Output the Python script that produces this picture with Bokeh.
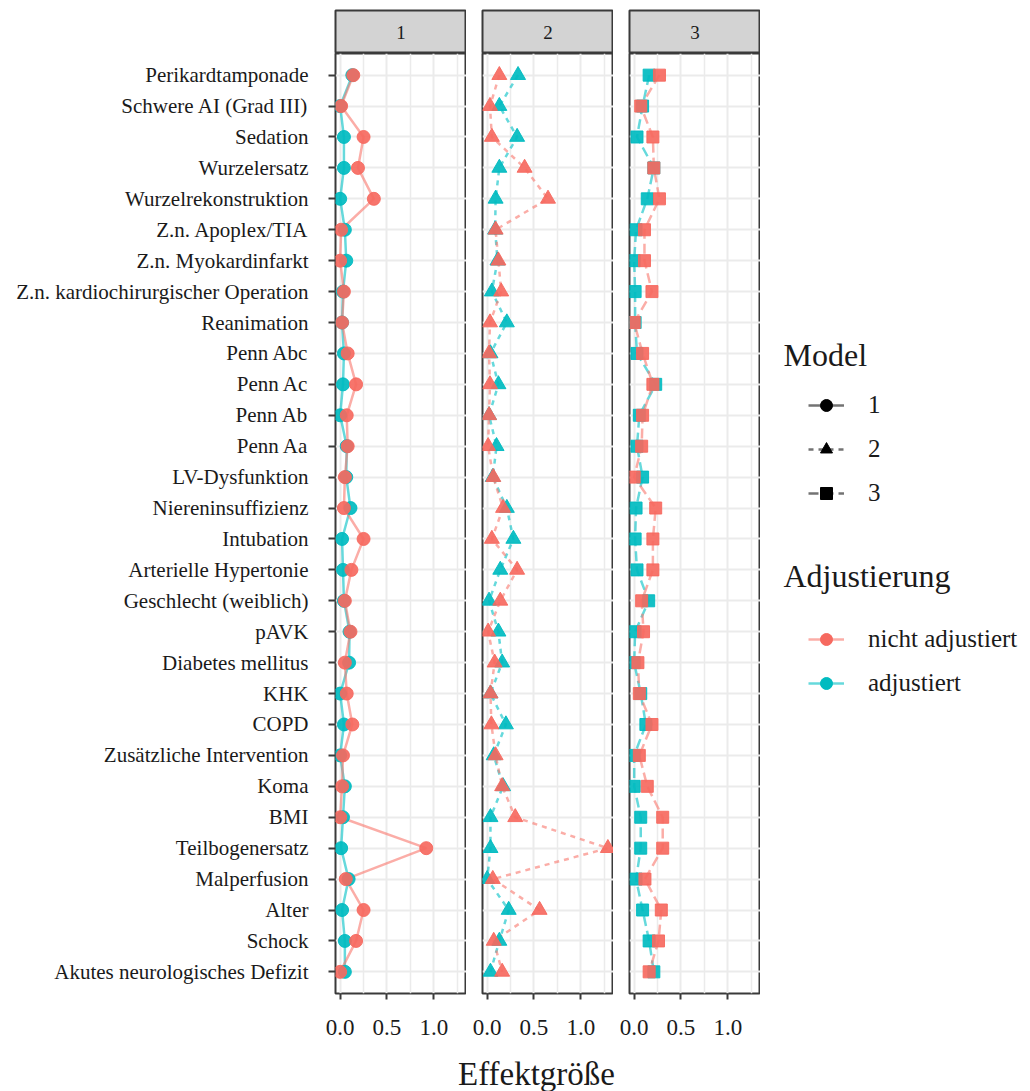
import numpy as np
from bokeh.plotting import figure
from bokeh.layouts import column, row
from bokeh.models import (Range1d, FactorRange, FixedTicker, Label, Legend, LegendItem,
                          ColumnDataSource, PrintfTickFormatter)
from bokeh.embed import file_html
from bokeh.resources import INLINE

# ---------------- data (top to bottom as shown) ----------------
categories = [
    "Perikardtamponade", "Schwere AI (Grad III)", "Sedation", "Wurzelersatz",
    "Wurzelrekonstruktion", "Z.n. Apoplex/TIA", "Z.n. Myokardinfarkt",
    "Z.n. kardiochirurgischer Operation", "Reanimation", "Penn Abc", "Penn Ac",
    "Penn Ab", "Penn Aa", "LV-Dysfunktion", "Niereninsuffizienz", "Intubation",
    "Arterielle Hypertonie", "Geschlecht (weiblich)", "pAVK", "Diabetes mellitus",
    "KHK", "COPD", "Zusätzliche Intervention", "Koma", "BMI", "Teilbogenersatz",
    "Malperfusion", "Alter", "Schock", "Akutes neurologisches Defizit",
]
models = ["1", "2", "3"]
adjust_labels = ["nicht adjustiert", "adjustiert"]
x_ticks = [0.0, 0.5, 1.0]
x_minor_ticks = [0.25, 0.75, 1.25]

m1_nicht = [0.14, 0.01, 0.25, 0.19, 0.36, 0.01, 0.00, 0.04, 0.02, 0.08,
            0.17, 0.07, 0.08, 0.05, 0.04, 0.25, 0.12, 0.05, 0.11, 0.05,
            0.07, 0.13, 0.03, 0.02, 0.00, 0.92, 0.06, 0.25, 0.17, 0.00]
m1_adj = [0.13, 0.00, 0.04, 0.04, 0.00, 0.05, 0.065, 0.03, 0.02, 0.04,
          0.03, 0.00, 0.07, 0.065, 0.11, 0.02, 0.03, 0.04, 0.10, 0.095,
          0.00, 0.04, 0.00, 0.05, 0.03, 0.01, 0.09, 0.02, 0.05, 0.05]
m2_nicht = [0.13, 0.03, 0.05, 0.40, 0.65, 0.09, 0.12, 0.15, 0.03, 0.02,
            0.03, 0.02, 0.01, 0.065, 0.17, 0.05, 0.32, 0.14, 0.01, 0.08,
            0.035, 0.045, 0.09, 0.16, 0.30, 1.29, 0.06, 0.56, 0.07, 0.16]
m2_adj = [0.33, 0.13, 0.32, 0.13, 0.09, 0.085, 0.11, 0.05, 0.21, 0.035,
          0.12, 0.02, 0.10, 0.06, 0.21, 0.28, 0.14, 0.02, 0.12, 0.16,
          0.035, 0.20, 0.07, 0.17, 0.035, 0.035, 0.00, 0.23, 0.13, 0.035]
m3_nicht = [0.27, 0.07, 0.20, 0.21, 0.27, 0.11, 0.11, 0.19, 0.00, 0.09,
            0.20, 0.09, 0.08, 0.00, 0.23, 0.20, 0.20, 0.08, 0.10, 0.04,
            0.055, 0.19, 0.055, 0.14, 0.305, 0.305, 0.115, 0.29, 0.26, 0.16]
m3_adj = [0.16, 0.09, 0.03, 0.21, 0.14, 0.02, 0.00, 0.01, 0.01, 0.03,
          0.23, 0.055, 0.03, 0.09, 0.02, 0.01, 0.03, 0.155, 0.01, 0.00,
          0.07, 0.125, 0.00, 0.00, 0.07, 0.07, 0.02, 0.09, 0.16, 0.21]

# ---------------- styling ----------------
FONT = "Liberation Serif"
RED = "#F6695F"
CYAN = "#00BBC0"
LINE_RED = "#F8766D"
LINE_CYAN = "#00BFC4"
BORDER = "#3a3a3a"
GRID = "#ebebeb"
markers = ["circle", "triangle", "square"]
marker_sizes = [13, 15, 12]
dashes = ["solid", "5 5", "10 5"]
series = [(m1_nicht, m1_adj), (m2_nicht, m2_adj), (m3_nicht, m3_adj)]

FRAME_W = 131
FRAME_H = 940
LEFT1 = 335
GAP = 16
BOTTOM = 50

yr = FactorRange(factors=list(reversed(categories)), range_padding=0.2,
                 range_padding_units="absolute")


def make_panel(idx):
    first = idx == 0
    p = figure(frame_width=FRAME_W, frame_height=FRAME_H,
               x_range=Range1d(-0.05, 1.35), y_range=yr,
               min_border_left=LEFT1 if first else GAP, min_border_right=0,
               min_border_top=0, min_border_bottom=BOTTOM,
               output_backend="svg", toolbar_location=None)
    p.background_fill_color = "white"
    p.border_fill_color = "white"
    p.outline_line_color = BORDER
    p.outline_line_width = 2

    p.xaxis.ticker = FixedTicker(ticks=x_ticks, minor_ticks=x_minor_ticks)
    p.xaxis.formatter = PrintfTickFormatter(format="%.1f")
    p.xaxis.axis_line_color = None
    p.xaxis.major_tick_out = 6
    p.xaxis.major_tick_in = 0
    p.xaxis.major_tick_line_width = 2
    p.xaxis.major_tick_line_color = BORDER
    p.xaxis.minor_tick_out = 0
    p.xaxis.minor_tick_in = 0
    p.xaxis.major_label_text_font = FONT
    p.xaxis.major_label_text_font_size = "23px"
    p.xaxis.major_label_text_color = "#1a1a1a"
    p.xaxis.major_label_standoff = 20

    if first:
        p.yaxis.axis_line_color = None
        p.yaxis.major_tick_out = 7
        p.yaxis.major_tick_in = 0
        p.yaxis.major_tick_line_width = 2
        p.yaxis.major_tick_line_color = BORDER
        p.yaxis.major_label_text_font = FONT
        p.yaxis.major_label_text_font_size = "21px"
        p.yaxis.major_label_text_color = "#1a1a1a"
        p.yaxis.major_label_standoff = 20
    else:
        p.yaxis.visible = False

    p.xgrid.grid_line_color = GRID
    p.xgrid.grid_line_width = 2
    p.xgrid.minor_grid_line_color = GRID
    p.xgrid.minor_grid_line_width = 1.5
    p.ygrid.grid_line_color = GRID
    p.ygrid.grid_line_width = 2

    nicht, adj = series[idx]
    for vals, col in ((adj, LINE_CYAN), (nicht, LINE_RED)):
        p.line(x=vals, y=categories, line_color=col, line_alpha=0.6,
               line_width=2.5, line_dash=dashes[idx])
    for vals, col in ((adj, CYAN), (nicht, RED)):
        p.scatter(x=vals, y=categories, marker=markers[idx], size=marker_sizes[idx],
                  fill_color=col, line_color=col, fill_alpha=0.92, line_alpha=0.92)
    return p


def make_strip(idx):
    first = idx == 0
    s = figure(frame_width=FRAME_W, frame_height=43,
               x_range=Range1d(0, 1), y_range=Range1d(0, 1),
               min_border_left=LEFT1 if first else GAP, min_border_right=0,
               min_border_top=10, min_border_bottom=0,
               x_axis_location=None, y_axis_location=None,
               output_backend="svg", toolbar_location=None)
    s.xgrid.visible = False
    s.ygrid.visible = False
    s.background_fill_color = "#d3d3d3"
    s.border_fill_color = "white"
    s.outline_line_color = BORDER
    s.outline_line_width = 2
    s.add_layout(Label(x=0.5, y=0.5, text=models[idx], text_align="center",
                       text_baseline="middle", text_font=FONT,
                       text_font_size="19px", text_color="#1a1a1a"))
    return s


panels = [make_panel(i) for i in range(3)]
strips = [make_strip(i) for i in range(3)]

# ---------------- legend figure ----------------
LEG_H = FRAME_H + BOTTOM
leg = figure(width=262, height=LEG_H, x_range=Range1d(0, 1), y_range=Range1d(0, 1),
             min_border=0, x_axis_location=None, y_axis_location=None,
             output_backend="svg", toolbar_location=None)
leg.xgrid.visible = False
leg.ygrid.visible = False
leg.outline_line_color = None
leg.background_fill_color = "white"
leg.border_fill_color = "white"

model_items = []
for i, m in enumerate(models):
    src = ColumnDataSource(data=dict(x=np.array([np.nan]), y=np.array([np.nan])))
    lr = leg.line("x", "y", source=src, line_color="black", line_alpha=0.55,
                  line_width=2.5, line_dash=dashes[i])
    sr = leg.scatter("x", "y", source=src, marker=markers[i], size=12,
                     fill_color="black", line_color="black")
    model_items.append(LegendItem(label=m, renderers=[lr, sr]))

adj_items = []
for lab, col, lcol in zip(adjust_labels, (RED, CYAN), (LINE_RED, LINE_CYAN)):
    src = ColumnDataSource(data=dict(x=np.array([np.nan]), y=np.array([np.nan])))
    lr = leg.line("x", "y", source=src, line_color=lcol, line_alpha=0.6, line_width=2.5)
    sr = leg.scatter("x", "y", source=src, marker="circle", size=12,
                     fill_color=col, line_color=col)
    adj_items.append(LegendItem(label=lab, renderers=[lr, sr]))

common = dict(orientation="vertical", glyph_width=36, glyph_height=30, label_height=30,
              spacing=14, label_standoff=24, padding=0, margin=0,
              border_line_color=None, background_fill_alpha=0,
              label_text_font=FONT, label_text_font_size="25px",
              label_text_color="#1a1a1a")
leg.add_layout(Legend(items=model_items, location=(48, 485), **common))
leg.add_layout(Legend(items=adj_items, location=(48, 295), **common))
leg.add_layout(Label(x=23, y=639, x_units="screen", y_units="screen", text="Model",
                     text_font=FONT, text_font_size="32px", text_color="#1a1a1a",
                     text_baseline="alphabetic"))
leg.add_layout(Label(x=23, y=418, x_units="screen", y_units="screen", text="Adjustierung",
                     text_font=FONT, text_font_size="32px", text_color="#1a1a1a",
                     text_baseline="alphabetic"))

# ---------------- axis title figure ----------------
tf = figure(width=LEFT1 + FRAME_W + 2 * (GAP + FRAME_W), height=48,
            x_range=Range1d(0, 1), y_range=Range1d(0, 1), min_border=0,
            x_axis_location=None, y_axis_location=None,
            output_backend="svg", toolbar_location=None)
tf.xgrid.visible = False
tf.ygrid.visible = False
tf.outline_line_color = None
tf.background_fill_color = "white"
tf.border_fill_color = "white"
tf.add_layout(Label(x=536, y=18, x_units="screen", y_units="screen", text="Effektgröße",
                    text_align="center", text_baseline="middle", text_font=FONT,
                    text_font_size="33px", text_color="#1a1a1a"))

layout = column(row(*strips), row(*panels, leg), tf)
open("out.html", "w").write(file_html(layout, INLINE))
